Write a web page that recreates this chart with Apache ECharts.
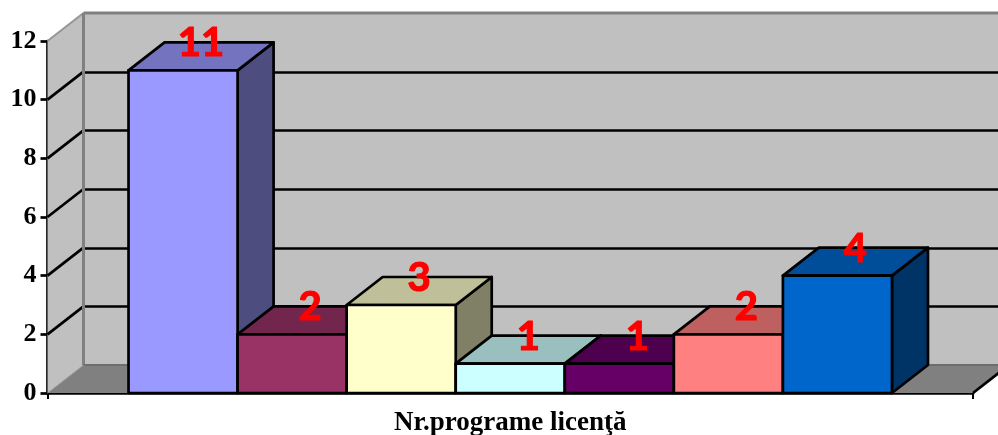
<!DOCTYPE html>
<html>
<head>
<meta charset="utf-8">
<style>html,body{margin:0;padding:0;background:#fff}#c{width:998px;height:435px}</style>
<script src="https://cdn.jsdelivr.net/npm/echarts@6/dist/echarts.min.js"></script>
</head>
<body>
<div id="c"></div>
<script>
var categoryLabels = ['Nr.programe licenţă'];
var barValues = [11, 2, 3, 1, 1, 2, 4];
var barColors = ['#9999ff', '#993366', '#ffffcc', '#ccffff', '#660066', '#ff8080', '#0066cc'];
var yMin = 0, yMax = 12, yStep = 2;
var innerTicks = [2, 4, 6, 8, 10];

var DX = 36, DY = 28, GAP_RATIO = 1.486, LW = 2.7;
var WALL = '#c0c0c0', FLOOR = '#808080', EDGE = '#808080';

function shade(hex, f) {
  var n = parseInt(hex.slice(1), 16);
  return 'rgb(' + Math.round((n >> 16 & 255) * f) + ',' + Math.round((n >> 8 & 255) * f) + ',' + Math.round((n & 255) * f) + ')';
}
function poly(points, fill, stroke, w) {
  return { type: 'polygon', shape: { points: points },
    style: { fill: fill, stroke: stroke || null, lineWidth: w || 0, lineJoin: 'round' } };
}
function seg(x1, y1, x2, y2, stroke, w) {
  return { type: 'line', shape: { x1: x1, y1: y1, x2: x2, y2: y2 },
    style: { stroke: stroke, lineWidth: w, fill: null } };
}
function barGeom(api, i, value) {
  var base = api.coord([0, 0]);
  var top = api.coord([0, value]);
  var band = api.size([1, 0])[0];
  var w = band / (barValues.length + GAP_RATIO);
  var left = base[0] - barValues.length * w / 2 + i * w;
  return { l: left, r: left + w, t: top[1], b: base[1], cx: left + w / 2 };
}

var option = {
  animation: false,
  backgroundColor: '#fff',
  grid: [
    { left: 47.5, top: 41, width: 925.5, height: 352, outerBoundsMode: 'none' },
    { left: 83.5, top: 13.5, width: 925.5, height: 351.5, show: true, backgroundColor: WALL, borderWidth: 0, outerBoundsMode: 'none' }
  ],
  xAxis: [
    { type: 'category', gridIndex: 0, data: categoryLabels,
      axisLine: { lineStyle: { color: '#000', width: LW } },
      axisTick: { show: true, length: 6, lineStyle: { color: '#000', width: 2 } },
      axisLabel: { interval: 0, margin: 17, color: '#000', fontFamily: 'Liberation Serif', fontWeight: 'bold', fontSize: 27 } },
    { type: 'category', gridIndex: 1, data: categoryLabels, show: false }
  ],
  yAxis: [
    { type: 'value', gridIndex: 0, min: yMin, max: yMax, interval: yStep,
      axisLine: { show: true, lineStyle: { color: '#000', width: LW } },
      axisTick: { show: true, length: 7, lineStyle: { color: '#000', width: LW } },
      splitLine: { show: false },
      axisLabel: { margin: 11, padding: [4, 0, 0, 0], color: '#000', fontFamily: 'Liberation Serif', fontWeight: 'bold', fontSize: 26 } },
    { type: 'value', gridIndex: 1, min: yMin, max: yMax, interval: yStep,
      axisLine: { show: false }, axisTick: { show: false }, axisLabel: { show: false },
      splitLine: { show: true, showMinLine: false, showMaxLine: false, lineStyle: { color: '#000', width: LW } } }
  ],
  series: [
    {
      type: 'custom', xAxisIndex: 0, yAxisIndex: 0, z: 1, silent: true,
      data: [[0, yMax]],
      renderItem: function (params, api) {
        var o = api.coord([0, yMin]);
        var t = api.coord([0, yMax]);
        var band = api.size([1, 0])[0];
        var l = o[0] - band / 2, r = o[0] + band / 2, b = o[1], tp = t[1];
        var kids = [
          poly([[l, b], [l, tp], [l + DX, tp - DY], [l + DX, b - DY]], WALL),
          poly([[l, b], [l + DX, b - DY], [r + DX, b - DY], [r, b]], FLOOR)
        ];
        innerTicks.forEach(function (v) {
          var y = api.coord([0, v])[1];
          kids.push(seg(l, y, l + DX, y - DY, '#000', LW));
        });
        kids.push(seg(l, tp, l + DX, tp - DY, '#969696', 2));
        kids.push(seg(l, b, l + DX, b - DY, '#a0a0a0', 1));
        kids.push(seg(l + DX, tp - DY, l + DX, b - DY, EDGE, 3));
        kids.push(seg(l + DX, tp - DY, r + DX, tp - DY, EDGE, 3));
        kids.push(seg(l + DX, b - DY, r + DX, b - DY, '#6e6e6e', 2));
        kids.push(seg(r, b, r + DX, b - DY, '#000', LW));
        return { type: 'group', children: kids };
      }
    },
    {
      type: 'custom', xAxisIndex: 0, yAxisIndex: 0, z: 3, silent: true, clip: false,
      data: barValues.map(function (v, i) { return [i, v]; }),
      encode: { y: 1 },
      renderItem: function (params, api) {
        var i = api.value(0), g = barGeom(api, i, api.value(1)), c = barColors[i];
        return { type: 'group', children: [
          poly([[g.r, g.t], [g.r + DX, g.t - DY], [g.r + DX, g.b - DY], [g.r, g.b]], shade(c, 0.5), '#000', LW),
          poly([[g.l, g.t], [g.l + DX, g.t - DY], [g.r + DX, g.t - DY], [g.r, g.t]], shade(c, 0.75), '#000', LW),
          poly([[g.l, g.t], [g.r, g.t], [g.r, g.b], [g.l, g.b]], c, '#000', LW)
        ] };
      }
    },
    {
      type: 'custom', xAxisIndex: 0, yAxisIndex: 0, z: 5, silent: true, clip: false,
      data: barValues.map(function (v, i) { return [i, v]; }),
      encode: { y: 1 },
      renderItem: function (params, api) {
        var i = api.value(0), v = api.value(1), g = barGeom(api, i, v);
        return { type: 'text', style: {
          x: g.cx + DX / 2, y: g.t - DY + 1, text: String(v), fill: '#ff0000',
          stroke: '#ff0000', lineWidth: 1.2,
          font: 'bold 40px "Lato"', textAlign: 'center', textVerticalAlign: 'middle' } };
      }
    }
  ]
};
var chart = echarts.init(document.getElementById('c'), null, { width: 998, height: 435 });
chart.setOption(option);
</script>
</body>
</html>
